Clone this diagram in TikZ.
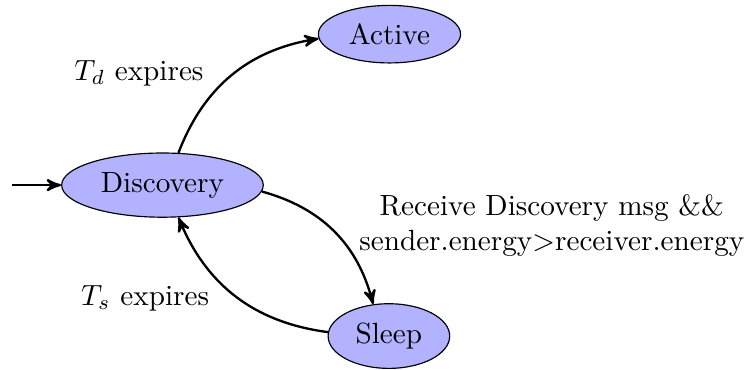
\documentclass[tikz,border=0pt]{standalone}
\usetikzlibrary{shapes.geometric,arrows}
\begin{document}
\begin{tikzpicture}[x=1pt,y=1pt,
  state/.style={ellipse,draw=black,fill=blue!30},
  trans/.style={->,>=stealth',thick},
  lbl/.style={inner sep=0pt}]
  \useasboundingbox (0,0) rectangle (256.2,126.4);
  % states
  \node[state] (disc)   at (55.65,63.0)  {Discovery};
  \node[state] (active) at (133.4,114.7) {Active};
  \node[state] (sleep)  at (133.2,11.3) {Sleep};
  % initial arrow
  \coordinate (init) at (4.1,63.0);
  \draw[trans] (init) -- (disc.west);
  % transitions
  \draw[trans] (disc) to[bend left] (active);
  \draw[trans] (disc) to[bend left] (sleep);
  \draw[trans] (sleep) to[bend left] (disc);
  % transition labels
  \node[lbl,anchor=base] (ld) at (47.6,99.0) {$T_d$ expires};
  \node[lbl,anchor=base] (ls) at (49.7,21.9) {$T_s$ expires};
  \node[lbl,align=center] (lr) at (189.0,49.3)
    {Receive Discovery msg \&\&\\ sender.energy$>$receiver.energy};
\end{tikzpicture}
\end{document}
